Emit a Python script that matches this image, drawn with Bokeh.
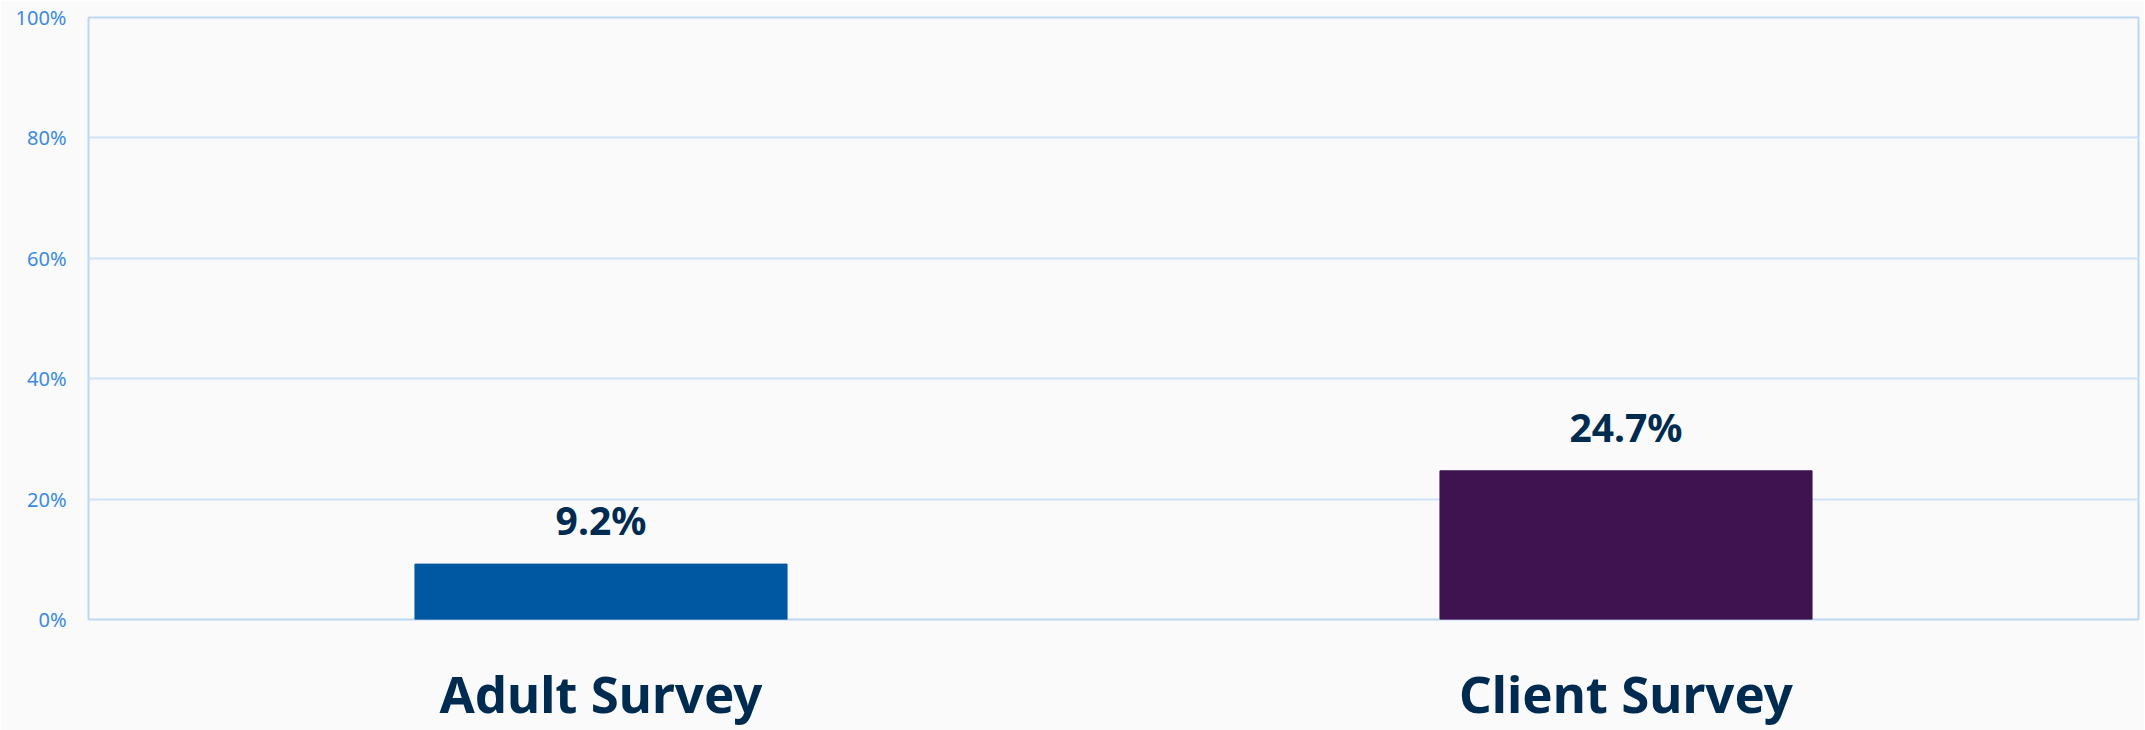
from bokeh.plotting import figure
from bokeh.models import ColumnDataSource, Range1d, FixedTicker, LabelSet
from bokeh.core.properties import value
from bokeh.embed import file_html
from bokeh.resources import INLINE

categories = ["Adult Survey", "Client Survey"]
values = [9.2, 24.7]
bar_colors = ["#0057a2", "#3e1350"]
labels = ["9.2%", "24.7%"]
y_ticks = [0, 20, 40, 60, 80, 100]

src = ColumnDataSource(dict(cat=categories, val=values, color=bar_colors, lab=labels))

p = figure(x_range=categories, y_range=Range1d(0, 100), width=2144, height=730,
           output_backend="svg", toolbar_location=None,
           min_border_left=88, min_border_right=6, min_border_top=17, min_border_bottom=0)
p.background_fill_color = "#fafafa"
p.border_fill_color = "#fafafa"
p.outline_line_color = "#bcd7f3"
p.outline_line_width = 2

p.vbar(x="cat", top="val", width=0.363, color="color", source=src)

p.add_layout(LabelSet(x="cat", y="val", text="lab", source=src, text_align="center",
                      text_baseline="bottom", y_offset=18, text_font=value("Noto Sans"),
                      text_font_style="bold", text_font_size="39px", text_color="#002b50"))

p.xgrid.grid_line_color = None
p.ygrid.grid_line_color = "#cfe2f7"
p.ygrid.grid_line_width = 2

p.xaxis.axis_line_color = None
p.xaxis.major_tick_line_color = None
p.xaxis.major_tick_out = 0
p.xaxis.major_label_standoff = 38
p.xaxis.major_label_text_font = "Noto Sans"
p.xaxis.major_label_text_font_style = "bold"
p.xaxis.major_label_text_font_size = "51px"
p.xaxis.major_label_text_color = "#002b50"

p.yaxis.ticker = FixedTicker(ticks=y_ticks)
p.yaxis.major_label_overrides = {t: f"{t}%" for t in y_ticks}
p.yaxis.axis_line_color = None
p.yaxis.major_tick_line_color = None
p.yaxis.minor_tick_line_color = None
p.yaxis.major_tick_out = 0
p.yaxis.major_label_standoff = 22
p.yaxis.major_label_text_font = "Noto Sans"
p.yaxis.major_label_text_font_size = "20px"
p.yaxis.major_label_text_color = "#3a8be0"

open("out.html", "w").write(file_html(p, INLINE))
